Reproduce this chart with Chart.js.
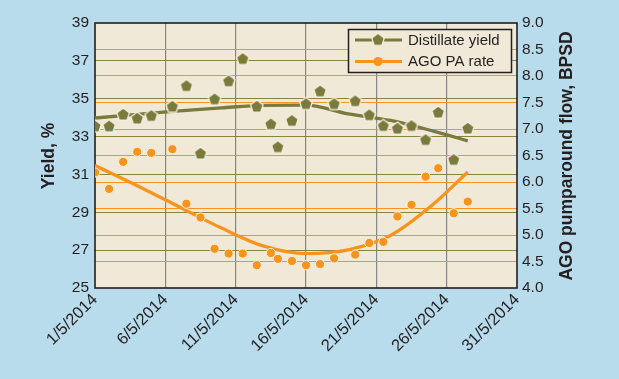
<!DOCTYPE html>
<html lang="en">
<head>
    <meta charset="UTF-8">
    <title>Distillate yield vs AGO PA rate</title>
    <style>
        body { margin: 0; background: #b8dcec; }
        #chartContainer { width: 619px; height: 379px; }
    </style>
</head>
<body>

<div id="chartContainer">
    <canvas id="yieldChart" width="619" height="379"></canvas>
</div>

<script src="https://cdn.jsdelivr.net/npm/chart.js"></script>
<script>
    // day of May 2014 for each sample
    const days = [1, 2, 3, 4, 5, 6.5, 7.5, 8.5, 9.5, 10.5, 11.5, 12.5, 13.5, 14, 15, 16, 17, 18, 19.5, 20.5, 21.5, 22.5, 23.5, 24.5, 25.4, 26.5, 27.5];
    const distillateYield = [33.57, 33.57, 34.19, 33.98, 34.12, 34.61, 35.70, 32.13, 35.0, 35.95, 37.13, 34.61, 33.68, 32.47, 33.86, 34.75, 35.42, 34.75, 34.9, 34.16, 33.59, 33.45, 33.59, 32.85, 34.30, 31.80, 33.45];
    const agoRate = [6.18, 5.87, 6.38, 6.57, 6.55, 6.62, 5.59, 5.33, 4.74, 4.65, 4.65, 4.43, 4.66, 4.55, 4.51, 4.43, 4.45, 4.56, 4.63, 4.85, 4.87, 5.35, 5.57, 6.10, 6.26, 5.41, 5.63];

    // trend curves
    const trendDays = [1, 4, 7, 10, 13, 16, 19, 22, 25, 27.5];
    const distillateTrend = [33.98, 34.17, 34.36, 34.52, 34.65, 34.66, 34.2, 33.85, 33.3, 32.77];
    const agoTrend = [6.31, 5.93, 5.53, 5.13, 4.79, 4.65, 4.72, 4.99, 5.57, 6.19];

    const month = '5/2014';

    const OLIVE = '#7a7a3c';
    const ORANGE = '#f7941d';
    const CREAM = '#f0e9d7';
    const INK = '#231f20';
    const FONT = '"Liberation Sans", Arial, sans-serif';

    // pentagon marker (no built-in pentagon point style)
    function makePentagon() {
        const c = document.createElement('canvas');
        c.width = 18; c.height = 18;
        const g = c.getContext('2d');
        g.beginPath();
        for (let i = 0; i < 5; i++) {
            const a = -Math.PI / 2 + i * 2 * Math.PI / 5;
            const px = 9 + 6.6 * Math.cos(a), py = 9.7 + 6.6 * Math.sin(a);
            if (i === 0) g.moveTo(px, py); else g.lineTo(px, py);
        }
        g.closePath();
        g.fillStyle = OLIVE;
        g.fill();
        g.strokeStyle = '#f6f1e3';
        g.lineWidth = 1.2;
        g.stroke();
        return c;
    }
    const pentagon = makePentagon();

    const toPoints = (xs, ys) => xs.map((x, i) => ({ x: x, y: ys[i] }));

    const frame = {
        id: 'frame',
        beforeDraw(chart) {
            const a = chart.chartArea, ctx = chart.ctx;
            ctx.save();
            ctx.fillStyle = '#b8dcec';
            ctx.fillRect(0, 0, chart.width, chart.height);
            ctx.fillStyle = CREAM;
            ctx.fillRect(a.left, a.top, a.right - a.left, a.bottom - a.top);
            ctx.restore();
        },
        beforeDatasetsDraw(chart) {
            const a = chart.chartArea, ctx = chart.ctx;
            ctx.save();
            ctx.strokeStyle = INK;
            ctx.lineWidth = 1.6;
            ctx.strokeRect(a.left, a.top, a.right - a.left, a.bottom - a.top);
            ctx.restore();
        },
        afterDraw(chart) {
            const ctx = chart.ctx;
            ctx.save();
            // axis titles, both read bottom to top
            ctx.fillStyle = INK;
            ctx.font = 'bold 17.5px ' + FONT;
            ctx.textAlign = 'center';
            ctx.textBaseline = 'middle';
            ctx.translate(49, 156);
            ctx.rotate(-Math.PI / 2);
            ctx.fillText('Yield, %', 0, 0);
            ctx.restore();

            ctx.save();
            ctx.fillStyle = INK;
            ctx.font = 'bold 17.5px ' + FONT;
            ctx.textAlign = 'center';
            ctx.textBaseline = 'middle';
            ctx.translate(567, 156);
            ctx.rotate(-Math.PI / 2);
            ctx.fillText('AGO pumparound flow, BPSD', 0, 0);
            ctx.restore();

            // legend box inside the plot
            ctx.save();
            ctx.fillStyle = CREAM;
            ctx.fillRect(348.5, 29.5, 163, 43);
            ctx.strokeStyle = INK;
            ctx.lineWidth = 1.5;
            ctx.strokeRect(348.5, 29.5, 163, 43);
            const rows = [
                { label: 'Distillate yield', color: OLIVE, y: 40 },
                { label: 'AGO PA rate', color: ORANGE, y: 61.5 }
            ];
            rows.forEach((r, i) => {
                ctx.strokeStyle = r.color;
                ctx.lineWidth = 3;
                ctx.beginPath();
                ctx.moveTo(355, r.y);
                ctx.lineTo(402, r.y);
                ctx.stroke();
                if (i === 0) {
                    ctx.drawImage(pentagon, 369, r.y - 9.7);
                } else {
                    ctx.beginPath();
                    ctx.arc(378, r.y, 4.6, 0, Math.PI * 2);
                    ctx.fillStyle = ORANGE;
                    ctx.fill();
                }
                ctx.fillStyle = INK;
                ctx.font = '15px ' + FONT;
                ctx.textAlign = 'left';
                ctx.textBaseline = 'middle';
                ctx.fillText(r.label, 408, r.y + 0.5);
            });
            ctx.restore();
        }
    };

    const edgeless = (color) => (ctx) => {
        const s = ctx.scale;
        return (ctx.tick.value === s.min || ctx.tick.value === s.max) ? 'rgba(0,0,0,0)' : color;
    };

    const ctx = document.getElementById('yieldChart').getContext('2d');
    new Chart(ctx, {
        type: 'scatter',
        data: {
            datasets: [
                {
                    label: 'Distillate yield',
                    data: toPoints(days, distillateYield),
                    yAxisID: 'y',
                    pointStyle: pentagon,
                    order: 0
                },
                {
                    label: 'AGO PA rate',
                    data: toPoints(days, agoRate),
                    yAxisID: 'y2',
                    pointStyle: 'circle',
                    pointRadius: 4.6,
                    pointBackgroundColor: ORANGE,
                    pointBorderColor: '#f6f1e3',
                    pointBorderWidth: 1,
                    order: 1
                },
                {
                    label: 'Distillate trend',
                    data: toPoints(trendDays, distillateTrend),
                    yAxisID: 'y',
                    showLine: true,
                    borderColor: OLIVE,
                    borderWidth: 3.3,
                    pointRadius: 0,
                    cubicInterpolationMode: 'monotone',
                    order: 2
                },
                {
                    label: 'AGO trend',
                    data: toPoints(trendDays, agoTrend),
                    yAxisID: 'y2',
                    showLine: true,
                    borderColor: ORANGE,
                    borderWidth: 3.3,
                    pointRadius: 0,
                    cubicInterpolationMode: 'monotone',
                    order: 3
                }
            ]
        },
        options: {
            responsive: false,
            animation: false,
            layout: { padding: { top: 23, left: 0, right: 0, bottom: 0 } },
            plugins: {
                legend: { display: false },
                tooltip: { enabled: false }
            },
            scales: {
                x: {
                    type: 'linear',
                    min: 1,
                    max: 31,
                    ticks: {
                        stepSize: 5,
                        maxRotation: 45,
                        minRotation: 45,
                        padding: 2,
                        color: INK,
                        font: { family: FONT, size: 16.5 },
                        callback: (v) => v + '/' + month
                    },
                    grid: { color: edgeless('#858585'), lineWidth: 1.2, drawTicks: false },
                    border: { display: false },
                    afterFit: (s) => { s.height = 91; }
                },
                y: {
                    position: 'left',
                    min: 25,
                    max: 39,
                    ticks: {
                        stepSize: 2,
                        padding: 6,
                        color: INK,
                        font: { family: FONT, size: 15.5 }
                    },
                    grid: { color: edgeless('#85853f'), lineWidth: 1, drawTicks: false },
                    border: { display: false },
                    afterFit: (s) => { s.width = 95; }
                },
                y2: {
                    position: 'right',
                    min: 4,
                    max: 9,
                    ticks: {
                        stepSize: 0.5,
                        padding: 5,
                        color: INK,
                        font: { family: FONT, size: 15.5 },
                        callback: (v) => v.toFixed(1)
                    },
                    grid: { color: edgeless(ORANGE), lineWidth: 1, drawTicks: false },
                    border: { display: false },
                    afterFit: (s) => { s.width = 102; }
                }
            }
        },
        plugins: [frame]
    });
</script>

</body>
</html>
